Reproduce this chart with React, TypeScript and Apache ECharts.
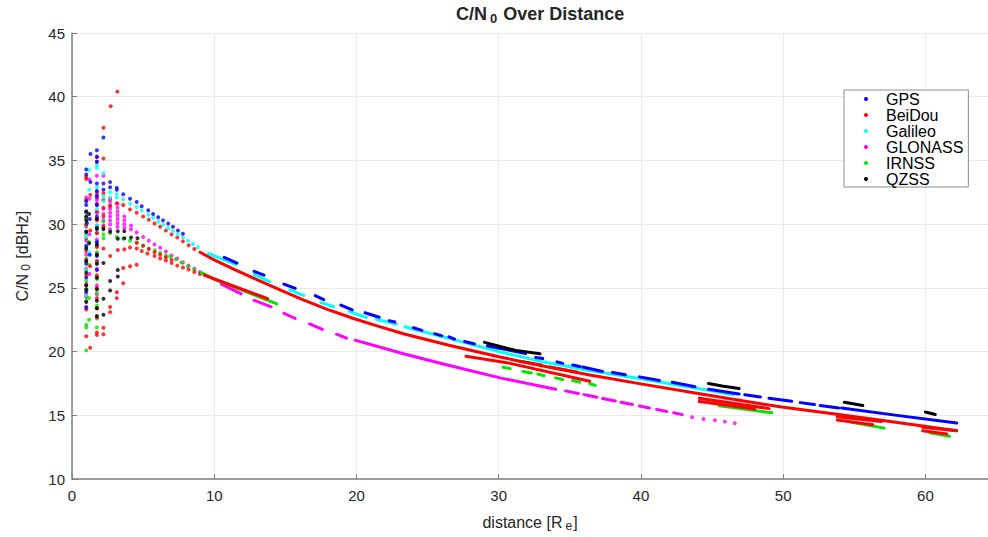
import React, { useEffect, useRef } from 'react';
import * as echarts from 'echarts';

const legendNames = ['GPS', 'BeiDou', 'Galileo', 'GLONASS', 'IRNSS', 'QZSS'];
const xTicks = [0, 10, 20, 30, 40, 50, 60];
const yTicks = [10, 15, 20, 25, 30, 35, 40, 45];

const gpsDots = [
  [1.0, 34.3], [1.0, 33.9], [1.0, 31.8], [1.0, 31.5], [1.05, 30.1], [1.0, 29.4], [1.0, 28.3], [1.0, 26.9], [1.0, 25.8], [1.0, 24.7], [1.0, 23.5],
  [1.3, 35.5], [1.3, 33.3], [1.25, 30.4], [1.25, 27.6],
  [1.75, 35.8], [1.75, 35.3], [1.75, 34.9], [1.75, 33.2], [1.75, 32.6], [1.75, 32.2], [1.75, 31.5], [1.75, 30.6], [1.75, 29.6], [1.75, 28.6], [1.75, 27.5], [1.75, 26.4],
  [2.21, 36.8], [2.21, 33.2], [2.21, 32.7],
  [2.68, 33.3], [2.68, 32.9], [3.15, 32.85], [3.15, 32.7], [3.6, 32.35], [4.08, 32.0], [4.55, 31.75], [4.9, 31.4], [5.36, 31.1], [5.7, 30.8],
  [6.06, 30.55], [6.4, 30.3], [6.76, 30.05], [7.1, 29.8], [7.45, 29.5], [7.8, 29.25],
];
const gpsSegs = [
  [[10.7, 27.4], [11.6, 26.95]],
  [[12.8, 26.3], [13.5, 26.0]],
  [[14.9, 25.3], [15.7, 24.97]],
  [[17.1, 24.4], [17.7, 24.08]],
  [[18.9, 23.65], [19.7, 23.27]],
  [[20.6, 23.05], [21.6, 22.7]],
  [[22.3, 22.43], [22.7, 22.33]],
  [[24.0, 21.87], [24.6, 21.67]],
  [[25.5, 21.41], [26.0, 21.24]],
  [[26.5, 21.16], [26.9, 20.98]],
  [[27.6, 20.8], [28.3, 20.6]],
  [[29.2, 20.45], [31.9, 19.86]],
  [[32.6, 19.54], [33.1, 19.46]],
  [[34.1, 19.2], [34.5, 19.08]],
  [[35.2, 18.95], [35.7, 18.83]],
  [[35.9, 18.8], [37.3, 18.44]],
  [[38.0, 18.37], [38.9, 18.19]],
  [[39.9, 18.02], [41.3, 17.73]],
  [[42.2, 17.6], [43.8, 17.25]],
  [[44.75, 17.05], [46.9, 16.67]],
  [[47.3, 16.62], [48.4, 16.45]],
  [[49.0, 16.35], [50.6, 16.1]],
  [[51.2, 16.0], [52.2, 15.85]],
  [[52.6, 15.78], [53.9, 15.58]],
  [[54.1, 15.58], [58.0, 15.0], [62.2, 14.4]],
];

const galileoDots = [
  [1.2, 34.25], [1.2, 32.7], [1.0, 30.9], [1.0, 29.0], [1.0, 26.4], [1.0, 24.4], [1.2, 27.8],
  [1.75, 34.6], [1.75, 34.4], [1.75, 32.9], [1.75, 31.2], [1.75, 29.9], [1.75, 26.9],
  [2.21, 34.0], [2.21, 32.2], [2.21, 31.8],
  [2.68, 32.5], [2.68, 32.1], [3.15, 32.35], [3.15, 32.1], [3.6, 31.95], [4.08, 31.6], [4.55, 31.35], [4.9, 31.05], [5.36, 30.75], [5.7, 30.5],
  [6.06, 30.2], [6.4, 29.95], [6.76, 29.7], [7.1, 29.45], [7.45, 29.2], [7.8, 28.95], [8.15, 28.7], [8.5, 28.45], [8.85, 28.2],
];
const galileoSegs = [
  [[9.6, 27.7], [11.5, 26.85]],
  [[12.8, 26.05], [13.9, 25.5]],
  [[15.3, 24.85], [16.3, 24.4]],
  [[17.5, 23.85], [18.4, 23.52]],
  [[19.5, 23.14], [20.7, 22.68]],
  [[21.4, 22.53], [22.8, 22.17]],
  [[23.4, 21.95], [26.9, 20.92], [30.0, 20.0], [33.1, 19.2], [36.5, 18.5], [40.1, 17.86], [43.6, 17.18], [46.5, 16.62]],
];

const beidouDots = [
  [1.0, 33.7], [1.0, 33.55], [1.0, 31.9], [1.0, 30.9], [1.0, 30.0], [1.0, 28.9], [1.0, 27.9], [1.0, 27.2], [1.0, 26.0], [1.0, 25.2], [1.0, 24.3], [1.0, 23.3], [1.0, 21.2],
  [1.28, 20.3], [1.28, 32.3], [1.28, 29.5], [1.28, 26.7],
  [1.75, 35.25], [1.75, 34.9], [1.75, 32.5], [1.75, 32.1], [1.75, 31.6], [1.75, 31.0], [1.75, 30.3], [1.75, 29.3], [1.75, 28.2], [1.75, 27.1], [1.75, 26.0],
  [1.75, 25.0], [1.75, 24.2], [1.75, 23.4], [1.75, 22.7], [1.75, 21.5], [1.75, 21.3],
  [2.21, 37.56], [2.21, 35.15], [2.21, 32.4], [2.21, 31.9], [2.21, 31.3], [2.21, 30.6], [2.21, 29.8], [2.21, 28.1], [2.21, 21.87], [2.21, 21.36],
  [2.72, 39.26], [2.68, 32.0], [2.68, 31.4], [2.68, 27.5], [2.68, 23.5], [2.68, 23.1],
  [3.19, 40.4], [3.15, 24.66], [3.15, 24.2], [3.6, 25.37],
  [3.6, 26.57], [4.08, 26.7], [4.55, 26.82],
  [3.15, 31.65], [3.6, 31.5], [4.08, 31.15], [4.55, 30.9], [5.0, 30.6], [5.4, 30.35], [5.8, 30.05], [6.2, 29.8], [6.6, 29.5], [7.0, 29.2],
  [7.4, 28.95], [7.8, 28.65], [8.2, 28.35], [8.6, 28.05],
  [3.22, 27.97], [3.68, 28.04], [4.08, 28.17], [4.55, 28.1], [4.9, 27.9], [5.3, 27.7], [5.8, 27.5], [6.2, 27.3], [6.6, 27.15], [7.0, 26.95],
  [7.4, 26.75], [7.8, 26.6], [8.2, 26.45], [8.6, 26.25], [9.0, 26.1],
  [4.55, 28.55], [5.0, 28.3], [5.4, 28.05], [5.8, 27.8], [6.2, 27.6], [6.6, 27.4], [7.0, 27.2],
];
const beidouSegs = [
  [[9.0, 27.8], [10.0, 27.2], [11.4, 26.45], [12.8, 25.75], [14.5, 24.9], [16.3, 24.05], [18.0, 23.3], [19.8, 22.6], [21.5, 22.0], [23.3, 21.4],
    [26.5, 20.5], [30.0, 19.6], [33.1, 18.88], [36.5, 18.15], [40.1, 17.45], [43.6, 16.8], [46.8, 16.2], [49.9, 15.65], [53.5, 15.12], [56.9, 14.62], [62.2, 13.8]],
  [[9.3, 26.0], [10.0, 25.7], [13.75, 24.15]],
  [[27.7, 19.64], [30.8, 19.08], [36.4, 17.68]],
  [[31.5, 19.25], [33.0, 18.95]],
  [[33.6, 18.8], [35.5, 18.4]],
  [[44.1, 16.34], [49.0, 15.53]],
  [[44.1, 16.08], [48.0, 15.5]],
  [[53.8, 14.9], [56.9, 14.51]],
  [[53.8, 14.64], [56.3, 14.26]],
  [[59.8, 14.06], [62.2, 13.8]],
  [[59.8, 13.8], [61.5, 13.54]],
];

const glonassDots = [
  [1.0, 32.1], [1.0, 31.0], [1.0, 30.5], [1.0, 29.8], [1.0, 28.7], [1.0, 27.6], [1.0, 26.5], [1.0, 25.3], [1.0, 24.5], [1.0, 23.4],
  [1.23, 33.5], [1.23, 32.0], [1.23, 29.2], [1.23, 26.1],
  [1.75, 33.8], [1.75, 32.3], [1.75, 31.9], [1.75, 31.5], [1.75, 30.9], [1.75, 30.4], [1.75, 29.9], [1.75, 29.3], [1.75, 28.8], [1.75, 28.3],
  [1.75, 27.7], [1.75, 27.1], [1.75, 26.5], [1.75, 25.8], [1.75, 25.2], [1.75, 24.5],
  [2.21, 33.8], [2.21, 31.2], [2.21, 30.8], [2.21, 30.3], [2.21, 29.9],
  [2.68, 31.8], [2.68, 31.5], [2.68, 31.2], [2.68, 30.9], [2.68, 30.6], [2.68, 30.3], [2.68, 30.0], [2.68, 29.6],
  [3.2, 31.6], [3.2, 31.3], [3.2, 31.0], [3.2, 30.7], [3.2, 30.4], [3.2, 30.1], [3.2, 29.8],
  [3.68, 30.6], [3.68, 30.3], [3.68, 30.0], [3.68, 29.7],
  [4.15, 29.9], [4.15, 29.6],
  [4.55, 29.35], [5.0, 29.0], [5.4, 28.7], [5.8, 28.4], [6.2, 28.15], [6.6, 27.85], [7.0, 27.55], [7.4, 27.3], [7.8, 27.0], [8.2, 26.75],
  [8.6, 26.5], [9.0, 26.25], [9.4, 26.0],
  [43.6, 14.86], [44.4, 14.71], [45.2, 14.61], [45.9, 14.51], [46.6, 14.38],
];
const glonassSegs = [
  [[10.5, 25.3], [11.9, 24.54]],
  [[12.8, 24.03], [14.0, 23.52]],
  [[14.9, 23.0], [15.7, 22.6]],
  [[16.7, 22.17], [17.6, 21.75]],
  [[18.6, 21.37], [19.3, 21.06]],
  [[19.9, 20.9], [23.3, 19.84], [26.1, 19.03], [30.1, 17.94], [34.0, 17.05]],
  [[34.7, 16.92], [35.6, 16.72]],
  [[36.0, 16.63], [36.9, 16.42]],
  [[37.3, 16.33], [38.2, 16.13]],
  [[38.6, 16.03], [39.4, 15.85]],
  [[39.9, 15.74], [40.6, 15.58]],
  [[41.1, 15.47], [41.8, 15.31]],
  [[42.3, 15.2], [42.9, 15.06]],
];

const irnssDots = [
  [1.0, 30.4], [1.0, 29.9], [1.0, 29.2], [1.0, 28.2], [1.0, 27.3], [1.0, 26.4], [1.0, 25.5], [1.0, 24.8], [1.0, 24.0], [1.0, 22.1], [1.0, 21.9], [1.0, 20.1],
  [1.2, 28.6], [1.2, 26.8], [1.2, 24.2], [1.2, 22.5],
  [1.75, 29.8], [1.75, 29.3], [1.75, 28.6], [1.75, 27.8], [1.75, 27.0], [1.75, 25.7], [1.75, 24.6], [1.75, 23.6], [1.75, 22.6], [1.75, 21.9],
  [2.21, 30.2], [2.21, 29.7], [2.21, 29.2], [2.21, 28.9],
  [2.68, 29.3], [3.15, 29.0], [3.6, 28.85], [4.08, 28.7], [4.55, 28.55], [5.0, 28.3], [5.4, 28.1], [5.83, 27.96], [6.2, 27.75], [6.6, 27.55],
  [6.9, 27.46], [7.3, 27.25], [7.7, 27.0], [8.16, 26.7], [8.6, 26.45],
];
const irnssSegs = [
  [[9.1, 26.2], [10.0, 25.7], [14.4, 23.75]],
  [[30.3, 18.78], [30.8, 18.67]],
  [[31.7, 18.44], [32.3, 18.32]],
  [[32.75, 18.24], [33.2, 18.11]],
  [[34.0, 17.94], [34.5, 17.81]],
  [[35.2, 17.73], [35.7, 17.6]],
  [[36.4, 17.48], [36.8, 17.35]],
  [[45.5, 15.75], [49.2, 15.2]],
  [[54.8, 14.46], [57.1, 14.0]],
  [[60.3, 13.63], [61.7, 13.37]],
];

const qzssDots = [
  [1.0, 31.0], [1.0, 30.6], [1.0, 30.3], [1.0, 29.4], [1.0, 28.1], [1.0, 27.1], [1.0, 26.2], [1.0, 25.2], [1.0, 24.9], [1.0, 23.9],
  [1.2, 30.8], [1.2, 28.5],
  [1.75, 30.4], [1.75, 29.7], [1.75, 28.4], [1.75, 27.6], [1.75, 26.9], [1.75, 25.8], [1.75, 24.9], [1.75, 24.0], [1.75, 23.4], [1.75, 22.8],
  [2.21, 29.6], [2.21, 26.95], [2.21, 24.15], [2.21, 22.9],
  [2.68, 29.4], [2.68, 25.55], [2.68, 24.8],
  [3.22, 29.45], [3.22, 28.85], [3.22, 26.4], [3.22, 25.9],
  [3.68, 29.45], [3.68, 28.9], [4.15, 28.95], [4.6, 28.9],
];
const qzssSegs = [
  [[29.0, 20.73], [30.1, 20.4], [31.2, 20.1], [32.9, 19.84]],
  [[44.75, 17.5], [45.7, 17.3], [46.9, 17.1]],
  [[54.3, 16.03], [55.6, 15.78]],
  [[60.0, 15.27], [60.7, 15.07]],
];

const FONT = '"Liberation Sans", Arial, Helvetica, sans-serif';
const TXT = '#262626';
const AXIS = '#7f7f7f';

export default function App() {
  const ref = useRef<HTMLDivElement>(null);
  useEffect(() => {
    if (!ref.current) return;
    const chart = echarts.init(ref.current, null, { renderer: 'svg' });
    const groups = [
      { name: 'GLONASS', color: '#ff00ff', dots: glonassDots, segs: glonassSegs },
      { name: 'IRNSS', color: '#00e600', dots: irnssDots, segs: irnssSegs },
      { name: 'BeiDou', color: '#ff0000', dots: beidouDots, segs: beidouSegs },
      { name: 'Galileo', color: '#00ffff', dots: galileoDots, segs: galileoSegs },
      { name: 'GPS', color: '#0000ff', dots: gpsDots, segs: gpsSegs },
      { name: 'QZSS', color: '#000000', dots: qzssDots, segs: qzssSegs },
    ];
    const series: any[] = [];
    groups.forEach((g) => {
      g.segs.forEach((seg) => {
        series.push({
          type: 'line',
          name: g.name,
          data: seg,
          symbol: 'none',
          showSymbol: false,
          silent: true,
          itemStyle: { color: g.color },
          lineStyle: { color: g.color, width: 3, cap: 'round', join: 'round' },
        });
      });
      series.push({
        type: 'scatter',
        name: g.name,
        data: g.dots,
        symbol: 'circle',
        symbolSize: 4,
        silent: true,
        itemStyle: { color: g.color },
      });
    });
    const subRich = (size: number, bold: boolean) => ({
      a: { fontSize: size, fontFamily: FONT, color: TXT, fontWeight: bold ? 'bold' : 'normal', lineHeight: size + 2, verticalAlign: 'top' },
      b: { fontSize: Math.round(size * 0.72), fontFamily: FONT, color: TXT, fontWeight: bold ? 'bold' : 'normal', lineHeight: Math.round(size * 0.72), padding: [Math.round(size * 0.75), 1, 0, 3], verticalAlign: 'bottom' },
    });
    chart.setOption({
      animation: false,
      textStyle: { fontFamily: FONT },
      title: {
        text: '{a|C/N}{b|0}{a| Over Distance}',
        left: 456,
        top: 5,
        padding: 0,
        textStyle: { rich: subRich(18, true) },
      },
      legend: {
        data: legendNames,
        orient: 'vertical',
        left: 844,
        top: 90,
        icon: 'circle',
        itemWidth: 4,
        itemHeight: 4,
        itemGap: 0,
        padding: [1, 5, 0, 20],
        borderColor: '#8c8c8c',
        borderWidth: 1,
        backgroundColor: '#ffffff',
        selectedMode: false,
        textStyle: { fontFamily: FONT, fontSize: 16, color: '#000', lineHeight: 16, padding: [0, 0, 0, 13] },
      },
      grid: { left: 67, right: 0, top: 33, bottom: 44.4, containLabel: false },
      xAxis: {
        type: 'value',
        min: 0,
        max: 64.4,
        interval: 10,
        name: '{a|distance [R}{b|e}{a|]}',
        nameLocation: 'middle',
        nameGap: 25,
        nameTextStyle: { rich: subRich(16, false) },
        axisLine: { show: true, lineStyle: { color: AXIS, width: 1.5 } },
        axisTick: { show: true, inside: true, length: 5, lineStyle: { color: AXIS, width: 1 } },
        axisLabel: {
          margin: 9,
          fontSize: 15,
          color: TXT,
          fontFamily: FONT,
          showMaxLabel: false,
          formatter: (v: number) => (xTicks.indexOf(v) >= 0 ? String(v) : ''),
        },
        splitLine: { show: true, lineStyle: { color: '#ebebeb', width: 1 } },
      },
      yAxis: {
        type: 'value',
        min: 10,
        max: 45,
        interval: 5,
        name: '{a|C/N}{b|0}{a| [dBHz]}',
        nameLocation: 'middle',
        nameGap: 40,
        nameTextStyle: { rich: subRich(16, false) },
        axisLine: { show: true, lineStyle: { color: AXIS, width: 1.5 } },
        axisTick: { show: true, inside: true, length: 5, lineStyle: { color: AXIS, width: 1 } },
        axisLabel: {
          margin: 7,
          fontSize: 15,
          color: TXT,
          fontFamily: FONT,
          formatter: (v: number) => (yTicks.indexOf(v) >= 0 ? String(v) : ''),
        },
        splitLine: { show: true, lineStyle: { color: '#ebebeb', width: 1 } },
      },
      series,
    });
    return () => chart.dispose();
  }, []);
  return <div ref={ref} style={{ position: 'absolute', left: 0, top: 0, width: 988, height: 537, background: '#fff' }} />;
}
